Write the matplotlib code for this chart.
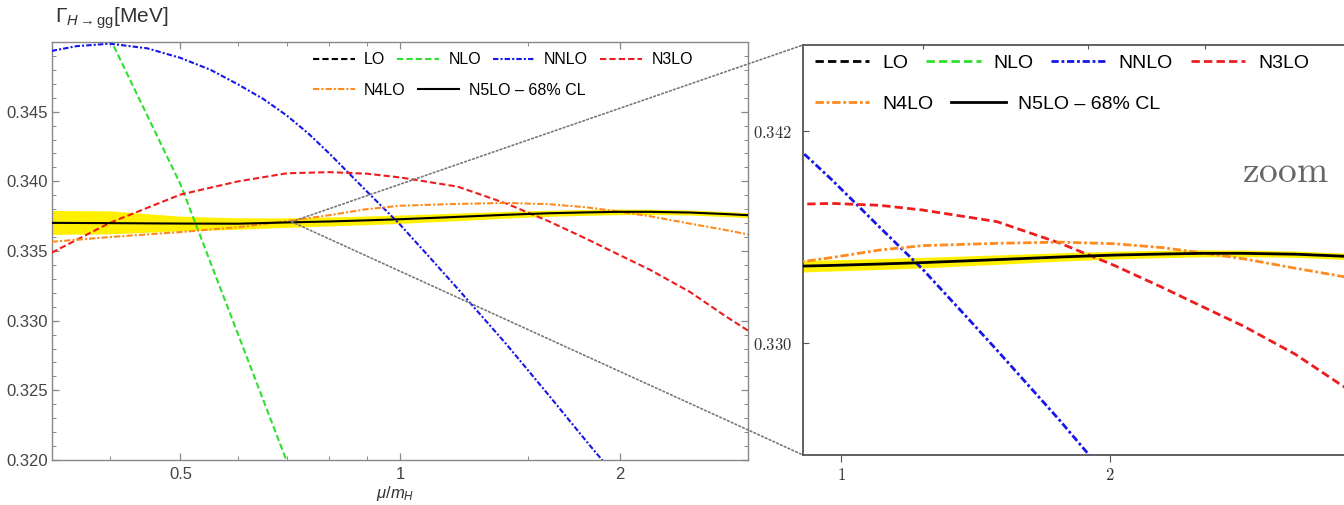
import matplotlib
matplotlib.use("Agg")
import matplotlib.pyplot as plt
from matplotlib.patches import ConnectionPatch
from matplotlib.ticker import NullFormatter, NullLocator

plt.rcParams["font.family"] = ["Liberation Sans", "DejaVu Sans"]
plt.rcParams["mathtext.fontset"] = "custom"
plt.rcParams["mathtext.rm"] = "Liberation Sans"
plt.rcParams["mathtext.it"] = "Liberation Sans:italic"

# mu / m_H grid
mu = [0.333, 0.4, 0.5, 0.6, 0.7, 0.8, 0.9, 1.0, 1.2, 1.4, 1.6, 1.8, 2.0, 2.2, 2.5, 2.8, 3.0]

nlo_mu = [0.4, 0.5, 0.6, 0.7, 0.75]
nlo = [0.35030, 0.33979, 0.32900, 0.31986, 0.31570]

nnlo_mu = [0.333, 0.36, 0.4, 0.45, 0.5, 0.55, 0.6, 0.65, 0.7, 0.75, 0.8, 0.9, 1.0,
           1.1, 1.2, 1.4, 1.6, 1.8, 2.0]
nnlo = [0.34936, 0.34970, 0.34988, 0.34955, 0.34886, 0.34800, 0.34695, 0.34590,
        0.34471, 0.34340, 0.34200, 0.33929, 0.33690, 0.33450, 0.33229, 0.32829,
        0.32464, 0.32136, 0.31850]

n3lo = [0.33488, 0.33702, 0.33905, 0.34000, 0.34058, 0.34066, 0.34055, 0.34028,
        0.33962, 0.33840, 0.33713, 0.33588, 0.33471, 0.33366, 0.33205, 0.33029, 0.32929]

n4lo = [0.33566, 0.33600, 0.33636, 0.33671, 0.33714, 0.33757, 0.33800, 0.33825,
        0.33838, 0.33845, 0.33836, 0.33814, 0.33782, 0.33750, 0.33696, 0.33650, 0.33619]

n5lo = [0.33702, 0.33700, 0.33697, 0.33696, 0.33705, 0.33712, 0.33720, 0.33728,
        0.33745, 0.33760, 0.33771, 0.33777, 0.33781, 0.33781, 0.33776, 0.33765, 0.33757]
n5lo_hi = [0.33791, 0.33788, 0.33750, 0.33738, 0.33738, 0.33744, 0.33751, 0.33758,
           0.33772, 0.33784, 0.33793, 0.33798, 0.33801, 0.33800, 0.33794, 0.33783, 0.33775]
n5lo_lo = [0.33619, 0.33623, 0.33645, 0.33656, 0.33670, 0.33680, 0.33689, 0.33698,
           0.33718, 0.33736, 0.33749, 0.33756, 0.33761, 0.33762, 0.33758, 0.33747, 0.33739]

labels = ["LO", "NLO", "NNLO", "N3LO", "N4LO", "N5LO \u2013 68% CL"]
xticks = [0.5, 1, 2]
xticks_minor = [0.4, 0.6, 0.7, 0.8, 0.9, 1.5, 3]
yticks = [0.320, 0.325, 0.330, 0.335, 0.340, 0.345]
zoom_top_ticks = [1, 1.5, 2]
zoom_xticks = [1, 2]
zoom_yticks = [0.330, 0.342]
zoom_center = (0.71, 0.3371)

GREEN = "#2ee02e"
BLUE = "#1616e8"
RED = "#ee1d1d"
ORANGE = "#ff8a1e"
YELLOW = "#fff000"


def draw_curves(ax, lw):
    ax.fill_between(mu, n5lo_lo, n5lo_hi, color=YELLOW, lw=0, zorder=1)
    h_lo, = ax.plot([], [], color="black", lw=lw, dashes=(3, 1.5))
    h_nlo, = ax.plot(nlo_mu, nlo, color=GREEN, lw=lw, dashes=(3, 1.5), zorder=3)
    h_nnlo, = ax.plot(nnlo_mu, nnlo, color=BLUE, lw=lw, dashes=(2.6, 1, 1, 1), zorder=3)
    h_n3lo, = ax.plot(mu, n3lo, color=RED, lw=lw, dashes=(3, 1.5), zorder=3)
    h_n4lo, = ax.plot(mu, n4lo, color=ORANGE, lw=lw, dashes=(3, 1, 1, 1), zorder=3)
    h_n5lo, = ax.plot(mu, n5lo, color="black", lw=lw, zorder=4)
    return [h_lo, h_nlo, h_nnlo, h_n3lo, h_n4lo, h_n5lo]


def add_legend_rows(ax, handles, x0, ys, fs, hl, tp, cs):
    kw = dict(loc="center left", frameon=False, fontsize=fs, handlelength=hl,
              handletextpad=tp, columnspacing=cs, borderpad=0, borderaxespad=0)
    row1 = ax.legend(handles[:4], labels[:4], bbox_to_anchor=(x0, ys[0]), ncol=4, **kw)
    ax.add_artist(row1)
    ax.legend(handles[4:], labels[4:], bbox_to_anchor=(x0, ys[1]), ncol=2, **kw)


fig = plt.figure(figsize=(13.44, 5.05), dpi=100)

# left panel
axL = fig.add_axes([0.03869, 0.08911, 0.51786, 0.82772])
hL = draw_curves(axL, 1.5)
axL.set_xscale("log")
axL.set_xlim(1 / 3, 3)
axL.set_ylim(0.320, 0.350)
axL.set_xticks(xticks, labels=["0.5", "1", "2"])
axL.set_xticks(xticks_minor, minor=True)
axL.xaxis.set_minor_formatter(NullFormatter())
axL.set_yticks(yticks, labels=[f"{v:.3f}" for v in yticks])
axL.set_yticks([0.320 + 0.001 * i for i in range(30)], minor=True)
axL.yaxis.set_minor_formatter(NullFormatter())
axL.tick_params(which="both", direction="in", top=True, right=True,
                colors="#888888", labelcolor="#444444", labelsize=12)
axL.tick_params(which="major", length=5, width=0.9)
axL.tick_params(which="minor", length=3, width=0.7)
axL.tick_params(axis="y", pad=3)
axL.tick_params(axis="x", pad=5)
for s in axL.spines.values():
    s.set_color("#888888")
    s.set_linewidth(1.0)
add_legend_rows(axL, hL, 0.375, (0.957, 0.885), 11.5, 2.6, 0.6, 0.75)

fig.text(0.041, 0.964, r"$\Gamma_{H\to\mathrm{gg}}$[MeV]", fontsize=15,
         color="#333333", ha="left", va="center")
fig.text(0.294, 0.022, r"$\mu/m_H$", fontsize=12, color="#333333",
         ha="center", va="center")

# zoom panel
rect = [0.59747, 0.09901, 0.40699, 0.81188]
axR = fig.add_axes(rect)
hR = draw_curves(axR, 2.0)
axR.set_xscale("log")
axR.set_xlim(0.745, 2.86)
axR.set_ylim(0.3263, 0.3497)
axR.xaxis.set_minor_locator(NullLocator())
axR.set_xticks(zoom_top_ticks)
axR.set_yticks([])
axR.tick_params(axis="x", direction="in", top=True, bottom=False,
                labeltop=False, labelbottom=False, length=3, color="#555555")
for s in axR.spines.values():
    s.set_color("#555555")
    s.set_linewidth(1.3)
add_legend_rows(axR, hR, 0.022, (0.956, 0.856), 14, 2.8, 0.65, 0.93)
axR.text(0.882, 0.69, r"$\mathrm{zoom}$", transform=axR.transAxes, fontsize=27,
         color="#666666", ha="center", va="center", math_fontfamily="cm")

# labelled axes of the zoom panel
axO = fig.add_axes(rect, facecolor="none")
for s in axO.spines.values():
    s.set_visible(False)
axO.set_xlim(0.8587, 2.892)
axO.set_ylim(0.32366, 0.34687)
axO.set_xticks(zoom_xticks, labels=[rf"${v}$" for v in zoom_xticks],
               math_fontfamily="cm")
axO.set_yticks(zoom_yticks, labels=[rf"${v:.3f}$" for v in zoom_yticks],
               math_fontfamily="cm")
axO.tick_params(axis="x", direction="out", length=5, pad=4, labelsize=12,
                color="#555555", labelcolor="#333333")
axO.tick_params(axis="y", direction="in", length=4, pad=8, labelsize=12,
                color="#555555", labelcolor="#333333")

# dotted zoom connectors
for corner in [(0, 1), (0, 0)]:
    con = ConnectionPatch(xyA=zoom_center, coordsA=axL.transData,
                          xyB=corner, coordsB=axR.transAxes,
                          color="#777777", lw=1.2, linestyle=(0, (1, 1.5)))
    fig.add_artist(con)

fig.savefig("out.png", dpi=100)
